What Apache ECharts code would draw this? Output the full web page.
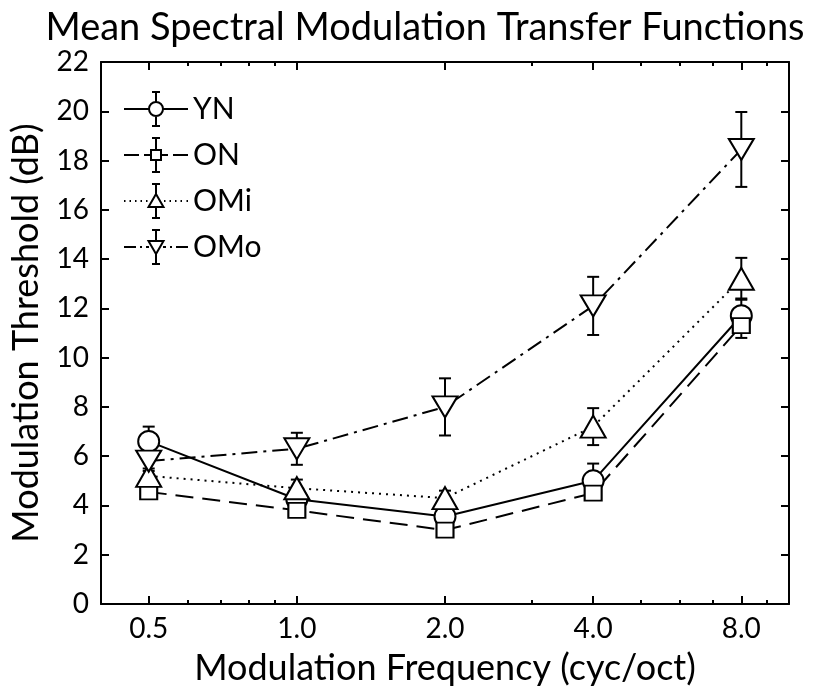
<!DOCTYPE html>
<html>
<head>
<meta charset="utf-8">
<script src="https://cdn.jsdelivr.net/npm/echarts@6/dist/echarts.min.js"></script>
<style>html,body{margin:0;padding:0;background:#fff}#c{width:815px;height:695px}</style>
</head>
<body>
<div id="c"></div>
<script>
// ---- data ----
const freqs = [0.5, 1, 2, 4, 8];
const minorFreqs = [0.6, 0.7, 0.8, 0.9, 3, 5, 6, 7, 9];
const yTicks = [0, 2, 4, 6, 8, 10, 12, 14, 16, 18, 20, 22];
const seriesNames = ['YN', 'ON', 'OMi', 'OMo'];
const YN  = [6.6, 4.25, 3.55, 5.0, 11.7];
const ON  = [4.55, 3.8, 3.0, 4.5, 11.3];
const OMi = [5.2, 4.7, 4.3, 7.2, 13.2];
const OMo = [5.8, 6.3, 8.0, 12.1, 18.45];
const YN_err  = [0.6, 0.3, 0.3, 0.7, 0.7];
const ON_err  = [0.2, 0.2, 0.2, 0.2, 0.5];
const OMi_err = [0.3, 0.35, 0.3, 0.75, 0.85];
const OMo_err = [0.4, 0.65, 1.16, 1.18, 1.52];

const FONT = 'Lato';
const L2 = Math.log2;
const xMin = L2(0.4), xMax = L2(10);

const valsList = [YN, ON, OMi, OMo];
const errList = [YN_err, ON_err, OMi_err, OMo_err];
const lineTypes = ['solid', [18, 9], [2, 5], [16, 6, 3, 6]];
const symbols = ['circle', 'rect', 'triangle', 'triangle'];
const symSizes = [21, [17, 15], [25, 22], [25, 21]];
const symRot = [0, 0, 0, 180];

// legend icon paths (64 x 34 box)
function segs(x0, x1, pattern) {
  let p = '';
  if (pattern === 'solid') return 'M' + x0 + ' 17L' + x1 + ' 17';
  let x = x0, i = 0;
  while (x < x1) {
    const len = pattern[i % pattern.length];
    if (i % 2 === 0) p += 'M' + x + ' 17L' + Math.min(x + len, x1) + ' 17';
    x += len; i++;
  }
  return p;
}
function legendPath(k) {
  const r = k === 1 ? 5 : 7;
  let p = '';
  let line;
  if (k === 0) line = segs(0, 32 - r, 'solid') + segs(32 + r, 64, 'solid');
  else if (k === 1) line = 'M0 17L15 17M20 17L27 17M37 17L44 17M49 17L64 17';
  else if (k === 2) line = segs(0, 24, [1.5, 4]) + 'M62.5 17L64 17' + 'M40 17L41.5 17M45.5 17L47 17M51 17L52.5 17M56.5 17L58 17';
  else line = 'M0 17L12 17M16 17L18 17M22 17L25 17M39 17L42 17M46 17L48 17M52 17L64 17';
  p += line;
  // error bar
  p += 'M28 0L36 0M32 0L32 ' + (17 - r) + 'M32 ' + (17 + r) + 'L32 34M28 34L36 34';
  if (k === 0) p += 'M25 17A7 7 0 1 0 39 17A7 7 0 1 0 25 17Z';
  else if (k === 1) p += 'M27 12L37 12L37 22L27 22Z';
  else if (k === 2) p += 'M32 10L39.5 23L24.5 23Z';
  else p += 'M24.5 11L39.5 11L32 24Z';
  return 'path://' + p;
}

const series = [];
valsList.forEach((vals, k) => {
  const errs = errList[k];
  series.push({
    type: 'custom',
    name: seriesNames[k] + ' err',
    xAxisIndex: 0, yAxisIndex: 0,
    z: 2,
    data: freqs.map((f, i) => [L2(f), vals[i] - errs[i], vals[i] + errs[i]]),
    renderItem: function (params, api) {
      const lo = api.coord([api.value(0), api.value(1)]);
      const hi = api.coord([api.value(0), api.value(2)]);
      const w = 6;
      const st = { stroke: '#000', lineWidth: 2 };
      return {
        type: 'group',
        children: [
          { type: 'line', shape: { x1: lo[0], y1: lo[1], x2: hi[0], y2: hi[1] }, style: st },
          { type: 'line', shape: { x1: lo[0] - w, y1: lo[1], x2: lo[0] + w, y2: lo[1] }, style: st },
          { type: 'line', shape: { x1: hi[0] - w, y1: hi[1], x2: hi[0] + w, y2: hi[1] }, style: st }
        ]
      };
    },
    silent: true
  });
});
valsList.forEach((vals, k) => {
  series.push({
    type: 'line',
    name: seriesNames[k],
    xAxisIndex: 0, yAxisIndex: 0,
    z: 3,
    data: freqs.map((f, i) => [L2(f), vals[i]]),
    symbol: symbols[k],
    symbolSize: symSizes[k],
    symbolRotate: symRot[k],
    showAllSymbol: true,
    lineStyle: { color: '#000', width: 2, type: lineTypes[k] },
    itemStyle: { color: '#fff', borderColor: '#000', borderWidth: 2 },
    emphasis: { disabled: true },
    animation: false
  });
});

const majorX = freqs.map(L2);
const minorX = minorFreqs.map(L2);
const axisLineStyle = { show: true, onZero: false, lineStyle: { color: '#000', width: 2 } };
function xAx(pos, ticks, len, showLine, showLabel, extra) {
  return Object.assign({
    type: 'value', min: xMin, max: xMax, position: pos,
    gridIndex: 0,
    axisLine: showLine ? axisLineStyle : { show: false, onZero: false },
    axisTick: { show: true, inside: true, length: len, customValues: ticks, lineStyle: { color: '#000', width: 2 } },
    axisLabel: showLabel ? {
      show: true, customValues: majorX, margin: 11,
      formatter: v => Math.pow(2, v).toFixed(1),
      fontFamily: FONT, fontSize: 28, color: '#000'
    } : { show: false },
    splitLine: { show: false }
  }, extra || {});
}

const option = {
  animation: false,
  backgroundColor: '#fff',
  title: {
    text: 'Mean Spectral Modulation Transfer Functions',
    left: 420, top: 4, textAlign: 'center',
    textStyle: { fontFamily: FONT, fontSize: 38, fontWeight: 'normal', color: '#000' }
  },
  grid: { left: 97, right: 26, top: 62, bottom: 91, containLabel: false },
  legend: {
    data: seriesNames.map((n, k) => ({ name: n, icon: legendPath(k) })),
    orient: 'vertical',
    left: 123, top: 91,
    padding: 0,
    itemWidth: 64, itemHeight: 34, itemGap: 10,
    symbolKeepAspect: false,
    selectedMode: false,
    itemStyle: { color: '#fff', borderColor: '#000', borderWidth: 2 },
    textStyle: { fontFamily: FONT, fontSize: 30, color: '#000', padding: [0, 0, 0, 0] }
  },
  xAxis: [
    xAx('bottom', majorX, 8, true, true, {
      name: 'Modulation Frequency (cyc/oct)', nameLocation: 'middle', nameGap: 46,
      nameTextStyle: { fontFamily: FONT, fontSize: 36, color: '#000' }
    }),
    xAx('bottom', minorX, 4, false, false),
    xAx('top', majorX, 8, true, false),
    xAx('top', minorX, 4, false, false)
  ],
  yAxis: [
    {
      type: 'value', min: 0, max: 22, interval: 2, position: 'left',
      axisLine: axisLineStyle,
      axisTick: { show: true, inside: true, length: 8, lineStyle: { color: '#000', width: 2 } },
      axisLabel: { margin: 12, fontFamily: FONT, fontSize: 28, color: '#000',
        customValues: yTicks },
      splitLine: { show: false },
      name: 'Modulation Threshold (dB)', nameLocation: 'middle', nameGap: 57, nameRotate: 90,
      nameTextStyle: { fontFamily: FONT, fontSize: 36, color: '#000' }
    },
    {
      type: 'value', min: 0, max: 22, interval: 2, position: 'right',
      axisLine: axisLineStyle,
      axisTick: { show: true, inside: true, length: 8, lineStyle: { color: '#000', width: 2 } },
      axisLabel: { show: false },
      splitLine: { show: false }
    }
  ],
  series: series
};

const chart = echarts.init(document.getElementById('c'), null, { renderer: 'canvas' });
chart.setOption(option);
</script>
</body>
</html>
